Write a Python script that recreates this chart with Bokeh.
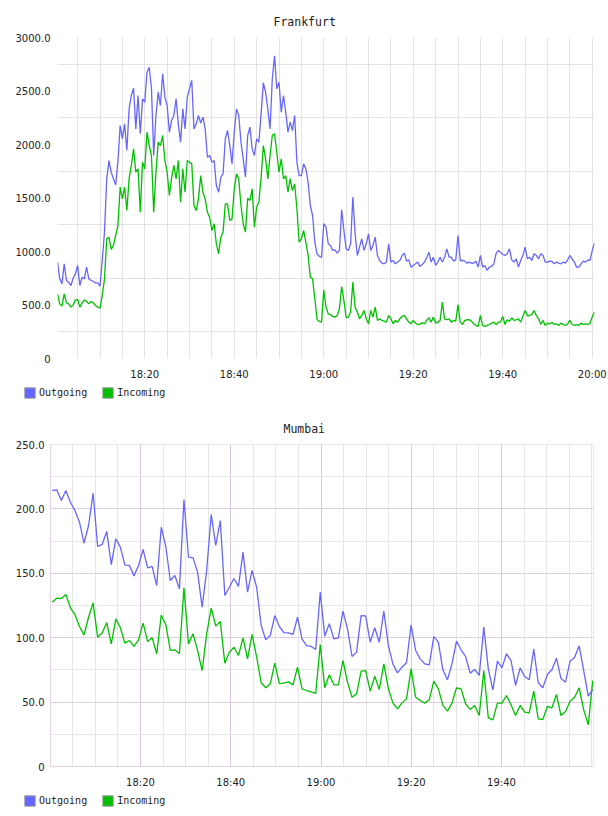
from datetime import datetime
from bokeh.plotting import figure
from bokeh.models import (FixedTicker, Legend, LegendItem, DatetimeTickFormatter,
                          Range1d, ColumnDataSource)
from bokeh.layouts import column
from bokeh.embed import file_html
from bokeh.resources import INLINE

# ---------------- data ----------------
fr_title = "Frankfurt"
mu_title = "Mumbai"
series_names = ["Outgoing", "Incoming"]

fr_start = "18:00:30"
fr_step_s = 30.0
fr_out = [900, 745, 698, 885, 729, 713, 682, 751, 791, 869, 682, 760, 744, 854, 744, 729, 720, 707, 707, 676,
          916, 1181, 1679, 1850, 1741, 1679, 1623, 1835, 2177, 2053, 2193, 1944, 2333, 2458, 2526, 2146, 2458, 2100, 2427, 2395,
          2676, 2722, 2520, 1897, 2271, 2489, 2364, 2660, 2442, 2364, 2115, 2224, 2271, 2427, 2193, 2022, 2333, 2146, 2442, 2520,
          2598, 2146, 2193, 2271, 2200, 2255, 2146, 1881, 1897, 1835, 1850, 1617, 1554, 1695, 1726, 2053, 2131, 1990, 1819, 2115,
          2333, 2271, 2022, 1866, 1695, 2084, 2162, 1959, 1897, 2053, 2022, 2286, 2576, 2489, 2333, 2146, 2614, 2830, 2520, 2582,
          2302, 2458, 2302, 2115, 2209, 2131, 2271, 1835, 1710, 1710, 1819, 1772, 1648, 1430, 1336, 1087, 978, 956, 944, 1260,
          1228, 1072, 1056, 1010, 1016, 985, 1010, 1390, 1197, 1025, 1010, 1072, 1510, 1166, 963, 1041, 1119, 1010, 1072, 1166,
          1010, 1056, 1134, 963, 916, 891, 885, 901, 1072, 901, 916, 885, 901, 916, 963, 985, 910, 922, 854, 870,
          885, 901, 860, 879, 901, 941, 994, 901, 947, 870, 901, 947, 901, 947, 1025, 947, 947, 910, 922, 1150,
          916, 916, 910, 891, 901, 891, 891, 910, 854, 963, 854, 870, 823, 854, 860, 885, 979, 1010, 994, 972,
          963, 979, 1025, 922, 901, 932, 854, 916, 963, 1041, 932, 947, 916, 979, 963, 932, 979, 963, 901, 901,
          910, 907, 885, 901, 891, 885, 901, 891, 922, 963, 932, 901, 854, 854, 885, 910, 901, 922, 916, 1010, 1078]
fr_in = [604, 511, 489, 604, 520, 511, 480, 501, 548, 551, 480, 520, 548, 533, 511, 533, 520, 495, 480, 470,
         589, 744, 1118, 1134, 1019, 1056, 1149, 1243, 1601, 1492, 1601, 1383, 1679, 1804, 1959, 1741, 1772, 1368, 1835, 1772,
         2115, 1990, 1897, 1368, 1741, 2022, 1990, 2084, 1850, 1741, 1523, 1685, 1804, 1679, 1850, 1461, 1772, 1554, 1850, 1835,
         1819, 1430, 1383, 1492, 1710, 1554, 1492, 1368, 1321, 1196, 1259, 1072, 978, 1134, 1181, 1445, 1445, 1290, 1305, 1586,
         1726, 1679, 1430, 1259, 1181, 1498, 1477, 1586, 1227, 1414, 1461, 1695, 1990, 1866, 1679, 1897, 2084, 2100, 1928, 1741,
         1866, 1679, 1710, 1554, 1679, 1570, 1632, 1399, 1087, 1118, 1196, 1087, 963, 760, 744, 558, 364, 346, 340, 640,
         480, 418, 412, 393, 387, 399, 465, 673, 543, 381, 387, 434, 714, 480, 434, 371, 402, 449, 371, 324,
         449, 387, 480, 356, 371, 356, 349, 340, 402, 371, 324, 356, 340, 371, 393, 402, 371, 340, 324, 356,
         331, 318, 318, 337, 324, 356, 381, 340, 387, 331, 340, 356, 527, 371, 362, 371, 340, 356, 349, 505,
         340, 318, 356, 362, 362, 349, 324, 309, 300, 402, 309, 300, 309, 318, 331, 340, 318, 337, 343, 393,
         318, 362, 349, 381, 356, 362, 371, 340, 393, 449, 399, 402, 412, 449, 402, 371, 318, 356, 309, 331,
         324, 337, 318, 324, 309, 331, 318, 309, 324, 356, 318, 309, 318, 309, 331, 318, 324, 318, 331, 387, 434]

mu_start = "18:00:26"
mu_step_s = 60.4
mu_out = [214.3, 214.8, 206.5, 214.3, 205.2, 198.8, 189.7, 173.4, 187.1, 212.2,
          170.8, 172.4, 182.5, 156.8, 176.8, 170.3, 156.3, 156.1, 148.0, 156.1,
          168.5, 154.2, 155.3, 140.5, 185.8, 170.8, 144.4, 148.3, 137.9, 207.3,
          162.5, 162.0, 150.9, 123.7, 152.2, 195.7, 171.6, 191.0, 132.8, 139.2,
          146.0, 139.8, 166.4, 135.4, 152.2, 139.2, 109.5, 98.3, 101.7, 117.2,
          108.7, 104.0, 103.8, 102.5, 115.9, 98.9, 93.9, 93.2, 90.8, 135.4,
          101.2,
          110.8, 99.1, 99.9, 120.6, 106.9, 85.4, 88.8, 117.2, 117.0, 96.5,
          107.7, 96.5, 120.6, 93.9, 79.7, 72.7, 77.1, 80.7, 110.0, 90.1,
          83.6, 79.7, 78.9, 100.9, 96.5, 75.1, 67.3, 79.7, 97.3, 90.6,
          85.4, 72.5, 75.3, 70.7, 108.2, 75.8, 59.5, 81.8, 76.6, 87.5,
          82.3, 62.9, 76.6, 69.9, 67.3, 91.1, 65.0, 61.1, 71.4, 75.1,
          84.1, 68.3, 65.5, 81.8, 84.9, 93.7, 74.5, 54.6, 59.8]
mu_in = [127.6, 130.7, 130.4, 133.5, 123.2, 118.0, 108.7, 102.2, 115.9, 127.1,
         100.4, 103.8, 111.6, 95.2, 114.6, 107.7, 95.8, 97.8, 93.2, 98.3,
         111.3, 97.0, 99.9, 87.5, 117.5, 110.2, 90.1, 90.6, 87.5, 138.7,
         95.2, 103.0, 90.1, 74.5, 103.0, 122.9, 109.0, 112.6, 80.2, 88.8,
         92.6, 86.2, 99.9, 83.6, 102.5, 84.9, 65.0, 61.1, 64.2, 80.2,
         64.4, 64.7, 65.7, 63.4, 77.1, 60.3, 59.0, 58.0, 56.7, 94.7,
         61.1,
         71.2, 63.4, 63.4, 82.3, 65.5, 53.8, 56.4, 74.0, 74.5, 58.5,
         70.1, 59.8, 79.7, 60.3, 49.4, 44.8, 49.4, 52.5, 75.8, 53.8,
         51.2, 49.2, 51.8, 66.3, 60.3, 47.4, 43.0, 49.2, 61.1, 60.3,
         48.7, 44.3, 47.4, 39.6, 74.5, 37.8, 36.2, 49.2, 49.2, 55.1,
         47.9, 39.6, 47.4, 42.2, 41.7, 58.5, 37.0, 36.5, 46.6, 45.5,
         55.9, 39.6, 42.7, 50.7, 53.8, 61.1, 44.0, 32.3, 66.8]

fr_x_range = ("18:00:30", "20:00:30")
mu_x_range = ("18:00:03", "20:00:23")
x_label_times = ["18:20", "18:40", "19:00", "19:20", "19:40", "20:00"]
fr_ytick_vals = [0, 500, 1000, 1500, 2000, 2500, 3000]
fr_ytick_labels = ["0", "500.0", "1000.0", "1500.0", "2000.0", "2500.0", "3000.0"]
mu_ytick_vals = [0, 50, 100, 150, 200, 250]
mu_ytick_labels = ["0", "50.0", "100.0", "150.0", "200.0", "250.0"]

# ---------------- helpers ----------------
EPOCH = (datetime(2024, 1, 1) - datetime(1970, 1, 1)).total_seconds() * 1000.0
NAN = float("nan")


def tms(s):
    parts = [float(v) for v in s.split(":")]
    while len(parts) < 3:
        parts.append(0.0)
    return EPOCH + (parts[0] * 3600 + parts[1] * 60 + parts[2]) * 1000.0


def times(start, step, n):
    t0 = tms(start)
    return [t0 + i * step * 1000.0 for i in range(n)]


def five_min_ticks(a, b):
    out = []
    t = tms("18:05")
    while t <= tms(b) + 1:
        if t >= tms(a):
            out.append(t)
        t += 300000.0
    return out


BLUE = "#6666ff"
GREEN = "#00c000"
TICK_FONT = "DejaVu Sans"
MONO = "DejaVu Sans Mono"

fmt = DatetimeTickFormatter(seconds="%H:%M", minsec="%H:%M", minutes="%H:%M",
                            hourmin="%H:%M", hours="%H:%M", days="%H:%M")


def make_fig(title, title_offset, xr, yr, xs, out_vals, in_vals, ytv, ytl,
             left, top, label_times, mumbai=False):
    p = figure(width=608, height=384, output_backend="svg", toolbar_location=None,
               x_axis_type="datetime", frame_align=False,
               x_range=Range1d(tms(xr[0]), tms(xr[1])), y_range=Range1d(yr[0], yr[1]),
               min_border_left=left, min_border_right=608 - (594 if not mumbai else 593),
               min_border_top=top, min_border_bottom=26)
    p.title.text = title
    p.title.align = "left"
    p.title.offset = title_offset
    p.title.text_font = MONO
    p.title.text_font_size = "11.5px"
    p.title.text_font_style = "normal"
    p.title.text_color = "#222222"
    p.title.standoff = 17

    p.background_fill_color = "white"
    p.border_fill_color = "white"

    src = ColumnDataSource(dict(t=xs, o=out_vals, i=in_vals))
    p.line("t", "o", source=src, line_color=BLUE, line_width=1.3)
    p.line("t", "i", source=src, line_color=GREEN, line_width=1.3)

    # axes
    p.xaxis.ticker = FixedTicker(ticks=[tms(s) for s in label_times])
    p.xaxis.formatter = fmt
    p.yaxis.ticker = FixedTicker(ticks=ytv)
    p.yaxis.major_label_overrides = {v: l for v, l in zip(ytv, ytl)}
    for ax in (p.xaxis[0], p.yaxis[0]):
        ax.major_tick_line_color = None
        ax.minor_tick_line_color = None
        ax.major_tick_out = 0
        ax.major_tick_in = 0
        ax.major_label_text_font = TICK_FONT
        ax.major_label_text_font_size = "10px"
        ax.major_label_text_color = "#222222"
    p.xaxis.major_label_standoff = 10
    p.yaxis.major_label_standoff = 6 if mumbai else 7

    grid5 = five_min_ticks(xr[0], xr[1])
    if not mumbai:
        p.xaxis.axis_line_color = None
        p.yaxis.axis_line_color = None
        p.outline_line_color = None
        p.xgrid.ticker = FixedTicker(ticks=grid5)
        p.xgrid.grid_line_color = "#e3e3e3"
        p.ygrid.ticker = FixedTicker(ticks=[250, 750, 1250, 1750, 2250, 2750])
        p.ygrid.grid_line_color = "#e3e3e3"
    else:
        p.xaxis.axis_line_color = "#e6d2e6"
        p.yaxis.axis_line_color = "#e6d2e6"
        p.outline_line_color = "#efe3ef"
        major_x = [tms(s) for s in label_times]
        p.xgrid.ticker = FixedTicker(ticks=major_x, minor_ticks=[t for t in grid5 if t not in major_x])
        p.xgrid.grid_line_color = "#dcc6dc"
        p.xgrid.minor_grid_line_color = "#e6e6e6"
        p.ygrid.ticker = FixedTicker(ticks=[50, 100, 150, 200], minor_ticks=[25, 75, 125, 175, 225])
        p.ygrid.grid_line_color = "#e2cce2"
        p.ygrid.minor_grid_line_color = "#e6e6e6"
    return p


def make_legend_strip():
    lf = figure(width=608, height=24, output_backend="svg", toolbar_location=None,
                x_range=Range1d(0, 1), y_range=Range1d(0, 1), frame_align=False,
                x_axis_location=None, y_axis_location=None,
                min_border_left=0, min_border_right=0, min_border_top=0, min_border_bottom=0)
    lf.grid.visible = False
    lf.outline_line_color = None
    lf.background_fill_color = "white"
    lf.border_fill_color = "white"
    # swatch glyphs only feed the legend; their data is empty (NaN)
    q1 = lf.quad(left=[NAN], right=[NAN], top=[NAN], bottom=[NAN], fill_color=BLUE, line_color="#999999")
    q2 = lf.quad(left=[NAN], right=[NAN], top=[NAN], bottom=[NAN], fill_color=GREEN, line_color="#999999")
    leg = Legend(items=[LegendItem(label=series_names[0], renderers=[q1]),
                        LegendItem(label=series_names[1], renderers=[q2])],
                 location=(23, 9), orientation="horizontal",
                 glyph_width=13, glyph_height=13, label_height=13, label_width=10,
                 label_standoff=3, spacing=14, padding=0, margin=0,
                 border_line_color=None, background_fill_alpha=0,
                 label_text_font=MONO, label_text_font_size="10px",
                 label_text_color="#222222")
    lf.add_layout(leg)
    return lf


p1 = make_fig(fr_title, 216, fr_x_range, (0, 3000),
              times(fr_start, fr_step_s, len(fr_out)), fr_out, fr_in,
              fr_ytick_vals, fr_ytick_labels, 57, 37, x_label_times)
p2 = make_fig(mu_title, 233, mu_x_range, (0, 250),
              times(mu_start, mu_step_s, len(mu_out)), mu_out, mu_in,
              mu_ytick_vals, mu_ytick_labels, 50, 36, x_label_times[:-1], mumbai=True)

layout = column(p1, make_legend_strip(), p2, make_legend_strip(), spacing=0)
open("out.html", "w").write(file_html(layout, INLINE))
